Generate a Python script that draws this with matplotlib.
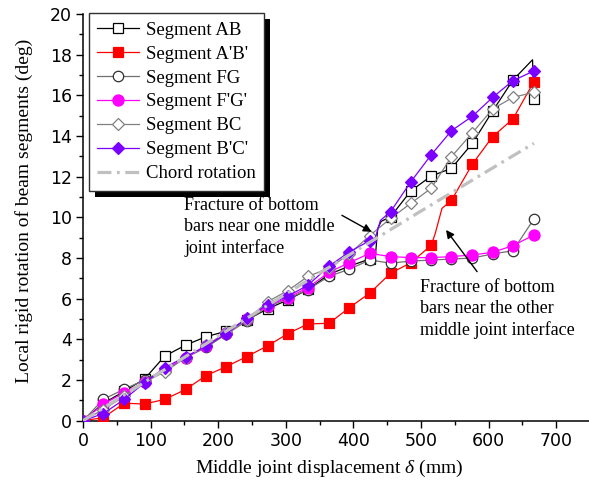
import matplotlib
matplotlib.use("Agg")
import matplotlib.pyplot as plt
from matplotlib.patches import Rectangle
from matplotlib.transforms import IdentityTransform
from matplotlib.ticker import MultipleLocator

plt.rcParams['lines.scale_dashes'] = False
plt.rcParams['mathtext.fontset'] = 'custom'
plt.rcParams['mathtext.rm'] = 'Liberation Serif'
plt.rcParams['mathtext.it'] = 'Liberation Serif:italic'

# Middle joint displacement at the recorded stages (mm)
disp = [0, 30, 61, 91, 121, 152, 182, 212, 242, 273, 303, 333,
        364, 394, 424, 455, 485, 515, 545, 576, 606, 636, 667]

# Local rigid rotation of each beam segment (deg)
seg_ab = [0, 0.85, 1.45, 2.05, 3.18, 3.72, 4.13, 4.40, 4.95, 5.50, 5.94, 6.46,
          7.20, 7.60, 7.95, 10.03, 11.30, 12.03, 12.41, 13.64, 15.23, 16.75, 15.82]
seg_a1b1 = [0, 0.15, 0.86, 0.82, 1.05, 1.54, 2.22, 2.66, 3.15, 3.68, 4.28, 4.76,
            4.79, 5.56, 6.27, 7.25, 7.77, 8.62, 10.83, 12.62, 13.97, 14.84, 16.67]
seg_fg = [0, 1.05, 1.55, 2.00, 2.50, 3.10, 3.60, 4.25, 4.90, 5.60, 6.00, 6.45,
          7.10, 7.45, 7.90, 7.75, 7.85, 7.90, 7.95, 8.00, 8.20, 8.36, 9.92]
seg_f1g1 = [0, 0.81, 1.38, 1.90, 2.50, 3.10, 3.65, 4.30, 5.00, 5.65, 6.05, 6.55,
            7.30, 7.77, 8.23, 8.07, 8.02, 8.02, 8.07, 8.15, 8.28, 8.61, 9.13]
seg_bc = [0, 0.55, 1.20, 1.90, 2.40, 3.10, 3.70, 4.35, 4.95, 5.85, 6.40, 7.10,
          7.50, 8.20, 9.10, 9.95, 10.69, 11.43, 12.98, 14.16, 15.33, 15.90, 16.15]
seg_b1c1 = [0, 0.35, 1.05, 1.87, 2.61, 3.15, 3.67, 4.28, 5.05, 5.70, 6.12, 6.67,
            7.60, 8.30, 8.85, 10.28, 11.75, 13.07, 14.26, 14.97, 15.90, 16.72, 17.20]

# Intermediate readings between stages (sudden jumps after bar fracture)
ab_extra_x = [432, 436, 441, 665]
ab_extra_y = [7.90, 9.45, 9.80, 17.75]
a1b1_extra_x = [521, 531]
a1b1_extra_y = [9.20, 10.44]
b1c1_extra_x = [432, 440]
b1c1_extra_y = [8.95, 9.85]

# Chord rotation of the beam
chord_x = [0, 100, 200, 300, 400, 500, 600, 667]
chord_y = [0, 2.08, 4.16, 6.23, 8.28, 10.31, 12.31, 13.64]

labels = ["Segment AB", "Segment A'B'", "Segment FG", "Segment F'G'",
          "Segment BC", "Segment B'C'", "Chord rotation"]

fig = plt.figure(figsize=(5.89, 4.88), dpi=100)
ax = fig.add_axes([83 / 589, 67.3 / 488, 507 / 589, 406.7 / 488])
ax.set_xlim(0, 750)
ax.set_ylim(0, 20)
ax.set_autoscale_on(False)


def draw_series(x, y, ex, ey, label, lc, marker, mfc, mec, ms, z):
    pts = sorted([(a, b, True) for a, b in zip(x, y)] +
                 [(a, b, False) for a, b in zip(ex, ey)], key=lambda p: p[0])
    lx = [p[0] for p in pts]
    ly = [p[1] for p in pts]
    idx = [i for i, p in enumerate(pts) if p[2]]
    ax.plot(lx, ly, color=lc, lw=0.9, marker=marker, markevery=idx,
            markersize=ms, markerfacecolor=mfc, markeredgecolor=mec,
            markeredgewidth=0.9, label=label, zorder=z)


draw_series(disp, seg_ab, ab_extra_x, ab_extra_y, labels[0],
            'black', 's', 'white', 'black', 7, 3)
draw_series(disp, seg_a1b1, a1b1_extra_x, a1b1_extra_y, labels[1],
            '#ff0000', 's', '#ff0000', '#ff0000', 7, 3)
draw_series(disp, seg_fg, [], [], labels[2],
            '#707070', 'o', 'white', '#303030', 7.5, 3)
draw_series(disp, seg_f1g1, [], [], labels[3],
            '#ff00ff', 'o', '#ff00ff', '#ff00ff', 8, 3)
draw_series(disp, seg_bc, [], [], labels[4],
            '#808080', 'D', 'white', '#808080', 6.5, 3)
draw_series(disp, seg_b1c1, b1c1_extra_x, b1c1_extra_y, labels[5],
            '#7b00ff', 'D', '#7b00ff', '#7b00ff', 6.5, 3)
ax.plot(chord_x, chord_y, color='#c0c0c0', lw=2.3, dashes=(10, 4, 2, 4),
        label=labels[6], zorder=3.5)

# Axes styling
for side in ('top', 'right'):
    ax.spines[side].set_visible(False)
for side in ('left', 'bottom'):
    ax.spines[side].set_linewidth(1.1)
ax.xaxis.set_major_locator(MultipleLocator(100))
ax.xaxis.set_minor_locator(MultipleLocator(50))
ax.yaxis.set_major_locator(MultipleLocator(2))
ax.yaxis.set_minor_locator(MultipleLocator(1))
ax.set_xticks(range(0, 701, 100))
ax.tick_params(which='major', direction='out', length=5, width=1.0,
               labelsize=12.5, pad=3)
ax.tick_params(which='minor', direction='out', length=2.8, width=1.0)
for t in ax.get_xticklabels() + ax.get_yticklabels():
    t.set_fontfamily('DejaVu Sans')

ax.set_xlabel(r"Middle joint displacement $\delta$ (mm)",
              fontfamily='Liberation Serif', fontsize=14)
ax.set_ylabel("Local rigid rotation of beam segments (deg)",
              fontfamily='Liberation Serif', fontsize=14)
ax.xaxis.set_label_coords(0.485, -0.092)
ax.yaxis.set_label_coords(-0.098, 0.515)

# Fracture annotations
ax.text(150, 8.25, "Fracture of bottom\nbars near one middle\njoint interface",
        fontfamily='Liberation Serif', fontsize=13, ha='left', va='baseline',
        linespacing=1.3, zorder=6)
ax.annotate('', xy=(427, 9.29), xytext=(383, 10.1),
            arrowprops=dict(arrowstyle='-|>', color='black', lw=1.0,
                            mutation_scale=12, shrinkA=0, shrinkB=0), zorder=6)
ax.text(498, 4.21, "Fracture of bottom\nbars near the other\nmiddle joint interface",
        fontfamily='Liberation Serif', fontsize=13, ha='left', va='baseline',
        linespacing=1.3, zorder=6)
ax.annotate('', xy=(537, 9.38), xytext=(583, 7.33),
            arrowprops=dict(arrowstyle='-|>', color='black', lw=1.0,
                            mutation_scale=12, shrinkA=0, shrinkB=0), zorder=6)

leg = ax.legend(loc='upper left', bbox_to_anchor=(88.5 / 589, 1 - 13.3 / 488),
                bbox_transform=fig.transFigure, borderaxespad=0,
                prop={'family': 'Liberation Serif', 'size': 13.5},
                numpoints=1, handlelength=2.25, handletextpad=0.35,
                labelspacing=0.36, borderpad=0.45, fancybox=False,
                framealpha=1, edgecolor='#303030')
leg.get_frame().set_linewidth(1.0)
leg.set_zorder(7)

# Solid drop shadow behind the legend box
fig.canvas.draw()
bb = leg.get_window_extent()
ax.add_patch(Rectangle((bb.x0 + 6, bb.y0 - 6), bb.width, bb.height,
                       transform=IdentityTransform(), facecolor='black',
                       edgecolor='none', zorder=6.9, clip_on=False))

fig.savefig('out.png', dpi=100)
